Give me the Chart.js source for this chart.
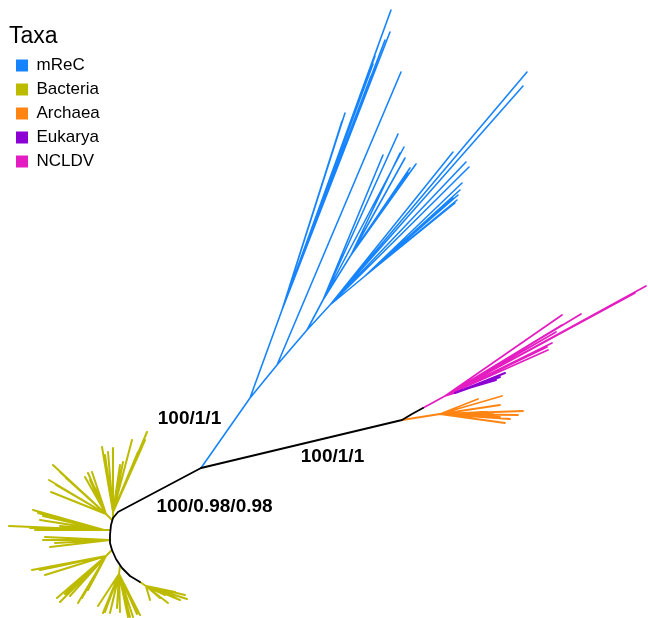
<!DOCTYPE html>
<html>
<head>
<meta charset="utf-8">
<script src="https://cdn.jsdelivr.net/npm/chart.js@4.4.0/dist/chart.umd.min.js"></script>
<style>
  html, body { margin: 0; padding: 0; background: #fff; }
</style>
</head>
<body>
<canvas id="treeChart" width="648" height="618"></canvas>
<script>
// taxa shown in the legend
var taxa = ["mReC", "Bacteria", "Archaea", "Eukarya", "NCLDV"];
var taxaColors = ["#1784FF", "#BDBB00", "#FF8412", "#8C00D4", "#E41CC2"];

// tree branches in layout units, each [x1, y1, x2, y2] (y grows downward)
var backboneEdges = [
  [201, 468, 402, 420], [402, 420, 412, 414], [412, 414, 423, 408],
  [201, 468, 118, 512],
  [118, 512, 113, 518], [113, 518, 111, 525], [111, 525, 110, 535], [110, 535, 110, 543],
  [110, 543, 112, 550], [112, 550, 116, 559], [116, 559, 122, 568], [122, 568, 130, 576],
  [130, 576, 140, 582]
];

var mrecEdges = [
  [201, 468, 250, 398],
  [250, 398, 282, 310],
  [282, 310, 391, 10], [282, 310, 390, 32], [282, 310, 385, 40], [282, 310, 378, 46],
  [282, 310, 375, 56], [282, 310, 373, 64], [282, 310, 371, 76], [282, 310, 345, 113],
  [282, 310, 342, 121],
  [250, 398, 277, 365], [277, 365, 401, 72],
  [277, 365, 307, 330],
  [307, 330, 323, 300],
  [323, 300, 398, 134], [323, 300, 404, 147], [323, 300, 383, 155], [323, 300, 351, 255],
  [351, 255, 400, 153], [351, 255, 405, 158], [351, 255, 416, 164], [351, 255, 410, 168],
  [351, 255, 408, 173],
  [307, 330, 330, 305],
  [330, 305, 527, 72], [330, 305, 523, 86], [330, 305, 453, 152], [330, 305, 466, 162],
  [330, 305, 469, 167], [330, 305, 365, 276],
  [365, 276, 462, 183], [365, 276, 460, 190], [365, 276, 458, 195], [365, 276, 457, 200],
  [365, 276, 455, 203], [365, 276, 453, 198]
];

var bacteriaEdges = [
  [113, 518, 113, 512],
  [113, 512, 147, 432], [113, 512, 145, 440], [113, 512, 142, 447], [113, 512, 138, 452],
  [113, 512, 132, 440], [113, 512, 128, 455], [113, 512, 123, 462], [113, 512, 120, 465],
  [113, 512, 113, 448], [113, 512, 108, 452], [113, 512, 102, 447], [113, 512, 105, 455],
  [112, 520, 106, 514],
  [106, 514, 92, 472], [106, 514, 88, 473], [106, 514, 85, 477], [106, 514, 90, 480],
  [106, 514, 95, 488], [106, 514, 60, 472], [106, 514, 53, 465], [106, 514, 49, 480],
  [106, 514, 51, 492], [106, 514, 56, 485], [106, 514, 66, 478],
  [110, 530, 104, 530],
  [104, 530, 33, 510], [104, 530, 38, 513], [104, 530, 43, 516], [104, 530, 40, 520],
  [104, 530, 9, 526], [104, 530, 30, 528], [104, 530, 35, 530], [104, 530, 60, 526],
  [110, 540, 43, 540], [110, 540, 50, 547], [110, 540, 45, 537], [110, 540, 55, 543],
  [112, 550, 106, 556],
  [106, 556, 32, 570], [106, 556, 40, 570], [106, 556, 45, 575], [106, 556, 50, 568],
  [106, 556, 55, 566], [106, 556, 60, 602], [106, 556, 57, 598], [106, 556, 65, 594],
  [106, 556, 70, 596], [106, 556, 78, 603], [106, 556, 82, 598], [106, 556, 88, 590],
  [120, 566, 119, 574],
  [119, 574, 98, 606], [119, 574, 103, 613], [119, 574, 105, 612], [119, 574, 110, 613],
  [119, 574, 112, 605], [119, 574, 117, 608], [119, 574, 120, 612], [119, 574, 128, 617],
  [119, 574, 130, 617], [119, 574, 133, 617], [119, 574, 137, 614], [119, 574, 140, 615],
  [140, 582, 146, 586],
  [146, 586, 150, 600], [146, 586, 160, 598], [146, 586, 165, 595], [146, 586, 168, 603],
  [146, 586, 175, 592], [146, 586, 180, 600], [146, 586, 185, 595], [146, 586, 187, 599],
  [146, 586, 176, 598]
];

var archaeaEdges = [
  [402, 420, 440, 414],
  [440, 414, 502, 396], [440, 414, 478, 399], [440, 414, 500, 405], [440, 414, 523, 411],
  [440, 414, 518, 415], [440, 414, 505, 423], [440, 414, 510, 419], [440, 414, 487, 412],
  [440, 414, 493, 413], [440, 414, 500, 417]
];

var eukaryaEdges = [
  [455, 393, 505, 373], [455, 393, 500, 377], [462, 390, 496, 380]
];

var ncldvEdges = [
  [423, 408, 445, 396],
  [445, 396, 646, 286], [445, 396, 635, 293],
  [445, 396, 562, 315], [445, 396, 581, 314], [445, 396, 562, 325], [445, 396, 556, 332],
  [445, 396, 557, 335], [445, 396, 552, 343], [445, 396, 547, 347], [445, 396, 548, 350],
  [445, 396, 455, 393]
];

// bootstrap / support values and the branch each one sits beside
var supportText = ["100/1/1", "100/1/1", "100/0.98/0.98"];
var supportEdge = [mrecEdges[0], backboneEdges[0], backboneEdges[3]];

function toPoints(edges) {
  var pts = [];
  edges.forEach(function (e) {
    pts.push({ x: e[0], y: e[1] }, { x: e[2], y: e[3] }, { x: null, y: null });
  });
  return pts;
}

function branchSet(label, edges, color, width) {
  return {
    label: label,
    data: toPoints(edges),
    showLine: true,
    spanGaps: false,
    borderColor: color,
    backgroundColor: color,
    borderWidth: width,
    borderCapStyle: "round",
    borderJoinStyle: "round",
    pointRadius: 0,
    pointHoverRadius: 0
  };
}

// support labels drawn next to their branch midpoints
var labelOffsets = [[-36, -14], [31, 13], [55, 17]];
var supportPlugin = {
  id: "supportLabels",
  afterDatasetsDraw: function (chart) {
    var ctx = chart.ctx, xs = chart.scales.x, ys = chart.scales.y;
    ctx.save();
    ctx.font = "bold 19px 'Liberation Sans', Arial, sans-serif";
    ctx.fillStyle = "#000";
    ctx.textAlign = "center";
    ctx.textBaseline = "middle";
    supportText.forEach(function (t, i) {
      var e = supportEdge[i];
      var px = xs.getPixelForValue((e[0] + e[2]) / 2) + labelOffsets[i][0];
      var py = ys.getPixelForValue((e[1] + e[3]) / 2) + labelOffsets[i][1];
      ctx.fillText(t, px, py);
    });
    ctx.restore();
  }
};

// nudge the in-chart legend a little away from the left edge
var legendNudge = {
  id: "legendNudge",
  afterLayout: function (chart) {
    if (chart.legend) {
      chart.legend.left += 9;
      chart.legend.right += 9;
    }
  }
};

var ctx = document.getElementById("treeChart").getContext("2d");

var treeChart = new Chart(ctx, {
  type: "scatter",
  data: {
    datasets: [
      branchSet("backbone", backboneEdges, "#000000", 1.8),
      branchSet(taxa[0], mrecEdges, taxaColors[0], 1.6),
      branchSet(taxa[1], bacteriaEdges, taxaColors[1], 2),
      branchSet(taxa[2], archaeaEdges, taxaColors[2], 1.8),
      branchSet(taxa[3], eukaryaEdges, taxaColors[3], 2),
      branchSet(taxa[4], ncldvEdges, taxaColors[4], 1.7)
    ]
  },
  options: {
    responsive: false,
    animation: false,
    events: [],
    layout: { padding: 0, autoPadding: false },
    scales: {
      x: { type: "linear", min: 0, max: 648, display: false },
      y: { type: "linear", min: 0, max: 618, reverse: true, display: false }
    },
    plugins: {
      tooltip: { enabled: false },
      legend: {
        position: "chartArea",
        align: "start",
        title: {
          display: true,
          text: "Taxa",
          position: "start",
          color: "#000",
          font: { family: "'Liberation Sans', Arial, sans-serif", size: 23, lineHeight: 1 },
          padding: { top: 25, bottom: 2 }
        },
        labels: {
          boxWidth: 12,
          boxHeight: 12,
          padding: 7,
          color: "#000",
          font: { family: "'Liberation Sans', Arial, sans-serif", size: 17 },
          generateLabels: function () {
            return taxa.map(function (name, i) {
              return {
                text: name,
                fillStyle: taxaColors[i],
                strokeStyle: taxaColors[i],
                lineWidth: 0,
                hidden: false,
                datasetIndex: i + 1
              };
            });
          }
        }
      }
    }
  },
  plugins: [supportPlugin, legendNudge]
});
</script>
</body>
</html>
